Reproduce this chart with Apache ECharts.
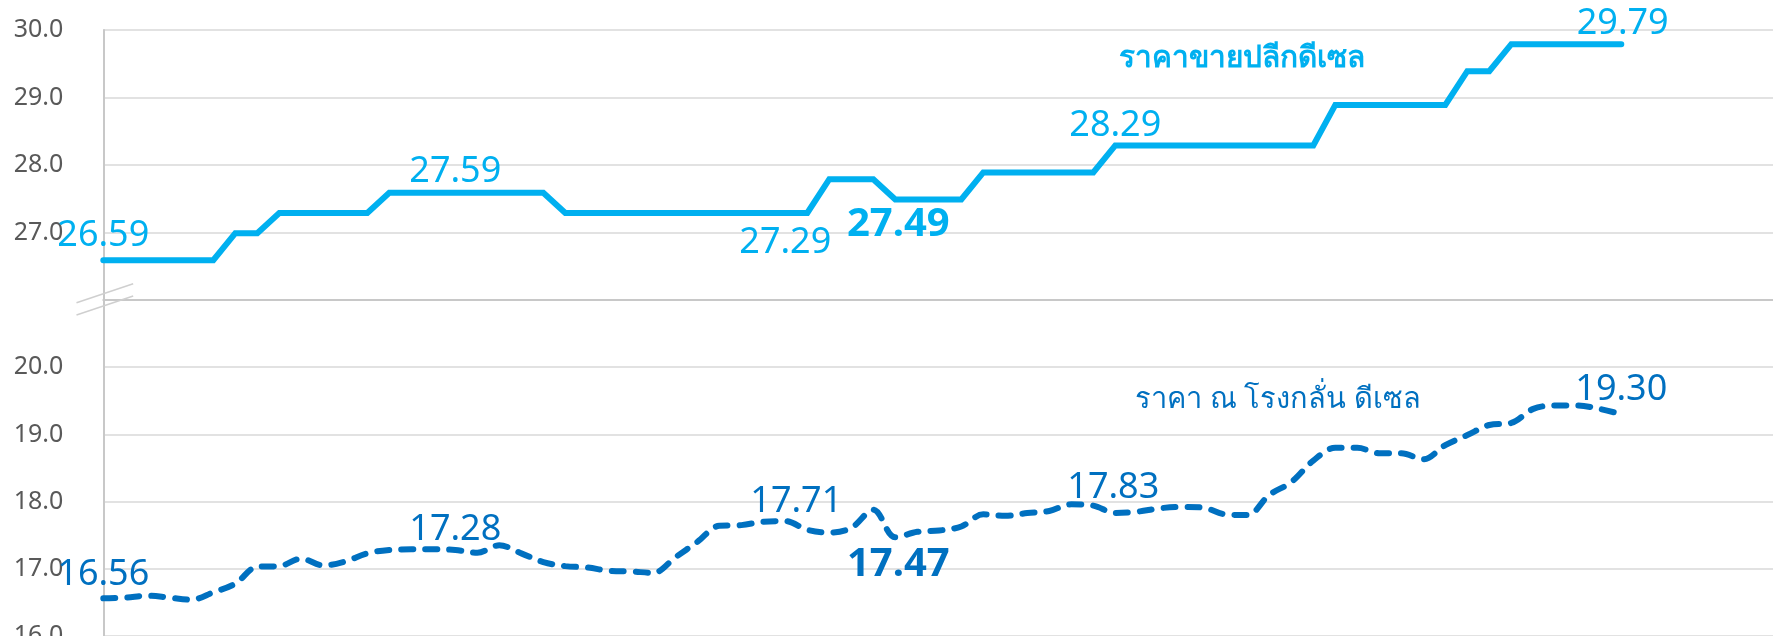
<!DOCTYPE html>
<html><head><meta charset="utf-8">
<script src="https://cdn.jsdelivr.net/npm/echarts@6/dist/echarts.min.js"></script>
<style>html,body{margin:0;padding:0;background:#fff}#c{width:1773px;height:636px}</style>
</head><body><div id="c"></div>
<script>
// ---- data ----
const periods = Array.from({length: 77}, (_, i) => 'P' + (i + 1)); // 70 observed periods + empty space at right
const retailDiesel = [
  26.59,26.59,26.59,26.59,26.59,26.59,
  26.99,26.99,
  27.29,27.29,27.29,27.29,27.29,
  27.59,27.59,27.59,27.59,27.59,27.59,27.59,27.59,
  27.29,27.29,27.29,27.29,27.29,27.29,27.29,27.29,27.29,27.29,27.29,27.29,
  27.79,27.79,27.79,
  27.49,27.49,27.49,27.49,
  27.89,27.89,27.89,27.89,27.89,27.89,
  28.29,28.29,28.29,28.29,28.29,28.29,28.29,28.29,28.29,28.29,
  28.89,28.89,28.89,28.89,28.89,28.89,
  29.39,29.39,
  29.79,29.79,29.79,29.79,29.79,29.79
];
const refineryDiesel = [
  16.56,16.57,16.60,16.57,16.54,16.65,16.78,17.03,17.04,17.15,
  17.05,17.11,17.23,17.28,17.29,17.29,17.28,17.24,17.35,17.23,
  17.10,17.04,17.02,16.97,16.96,16.94,17.17,17.40,17.64,17.65,
  17.70,17.71,17.58,17.54,17.61,17.88,17.47,17.55,17.57,17.63,
  17.81,17.79,17.83,17.86,17.96,17.94,17.83,17.85,17.90,17.92,
  17.91,17.81,17.80,18.10,18.29,18.61,18.80,18.80,18.72,18.72,
  18.63,18.84,18.99,19.14,19.17,19.38,19.43,19.43,19.38,19.30
];
const topTickLabels = ['27.0','28.0','29.0','30.0'];
const bottomTickLabels = ['16.0','17.0','18.0','19.0','20.0'];
const seriesNames = ['ราคาขายปลีกดีเซล', 'ราคา ณ โรงกลั่น ดีเซล'];
const labeledPoints = [0, 16, 31, 36, 46, 69];
const boldPoints = [36];

// ---- style ----
const C_RETAIL = '#00B0F0', C_REF = '#0070C0';
const FONT = "'Noto Sans', 'DejaVu Sans', sans-serif";
const retailOffsets = {0:[0,-24],16:[0,-20.5],31:[0,30],36:[3,25.6],46:[0,-19.4],69:[1.4,-20.5]};
const refOffsets = {0:[0,-23.5],16:[0,-20],31:[11,-19],36:[3,27.7],46:[-2,-25],69:[0,-24.5]};

function withLabels(values, color, offsets) {
  return values.map((v, i) => {
    if (!labeledPoints.includes(i)) return v;
    const bold = boldPoints.includes(i);
    return {
      value: v,
      label: {
        show: true, position: 'inside', offset: offsets[i],
        formatter: p => p.value.toFixed(2),
        color: color, fontFamily: FONT,
        fontSize: bold ? 40 : 36, fontWeight: bold ? 'bold' : 'normal'
      }
    };
  });
}

const chart = echarts.init(document.getElementById('c'), null, {renderer: 'canvas'});
const gridLeft = 103.3, gridW = 1672;
const axisLabelStyle = {color: '#595959', fontSize: 25, fontFamily: FONT, margin: 40, padding: [0,0,12,0]};
chart.setOption({
  animation: false,
  backgroundColor: '#fff',
  grid: [
    {left: gridLeft, top: 30, width: gridW, height: 270, containLabel: false, outerBoundsMode: 'none'},
    {left: gridLeft, top: 300, width: gridW, height: 336, containLabel: false, outerBoundsMode: 'none'}
  ],
  xAxis: [
    {type: 'category', gridIndex: 0, data: periods, boundaryGap: false,
     axisLine: {show: true, lineStyle: {color: '#c8c8c8', width: 2}},
     axisTick: {show: false}, axisLabel: {show: false}, splitLine: {show: false}},
    {type: 'category', gridIndex: 1, data: periods, boundaryGap: false,
     axisLine: {show: false}, axisTick: {show: false}, axisLabel: {show: false}, splitLine: {show: false}}
  ],
  yAxis: [
    {type: 'value', gridIndex: 0, min: 26, max: 30, interval: 1,
     axisLine: {show: true, lineStyle: {color: '#c8c8c8', width: 2}}, axisTick: {show: false},
     axisLabel: Object.assign({}, axisLabelStyle, {formatter: v => topTickLabels.includes(v.toFixed(1)) ? v.toFixed(1) : ''}),
     splitLine: {show: true, lineStyle: {color: '#d9d9d9', width: 1.5}}},
    {type: 'value', gridIndex: 1, min: 16, max: 21, interval: 1,
     axisLine: {show: true, lineStyle: {color: '#c8c8c8', width: 2}}, axisTick: {show: false},
     axisLabel: Object.assign({}, axisLabelStyle, {formatter: v => bottomTickLabels.includes(v.toFixed(1)) ? v.toFixed(1) : ''}),
     splitLine: {show: true, lineStyle: {color: '#d9d9d9', width: 1.5}}}
  ],
  series: [
    {name: seriesNames[0], type: 'line', xAxisIndex: 0, yAxisIndex: 0,
     data: withLabels(retailDiesel, C_RETAIL, retailOffsets),
     symbol: 'circle', symbolSize: 1, showAllSymbol: true,
     itemStyle: {color: 'transparent', borderWidth: 0},
     lineStyle: {color: C_RETAIL, width: 6, cap: 'round', join: 'miter'}, z: 3},
    {name: seriesNames[1], type: 'line', xAxisIndex: 1, yAxisIndex: 1,
     data: withLabels(refineryDiesel, C_REF, refOffsets),
     smooth: 0.35,
     symbol: 'circle', symbolSize: 1, showAllSymbol: true,
     itemStyle: {color: 'transparent', borderWidth: 0},
     lineStyle: {color: C_REF, width: 6, type: [12, 12], cap: 'round'}, z: 3}
  ],
  graphic: [
    {type: 'line', shape: {x1: 76.5, y1: 302.7, x2: 133.2, y2: 283.7}, style: {stroke: '#cfcfcf', lineWidth: 1.5}, z: 10},
    {type: 'line', shape: {x1: 76.5, y1: 315, x2: 133.2, y2: 296}, style: {stroke: '#cfcfcf', lineWidth: 1.5}, z: 10},
    {type: 'text', left: 1119, top: 44, z: 10,
     style: {text: seriesNames[0], fill: C_RETAIL, font: "bold 29.8px 'Noto Sans', 'DejaVu Sans', sans-serif"}},
    {type: 'text', left: 1135, top: 385, z: 10,
     style: {text: seriesNames[1], fill: C_REF, font: "29px 'Noto Sans', 'DejaVu Sans', sans-serif"}}
  ]
});
</script></body></html>
